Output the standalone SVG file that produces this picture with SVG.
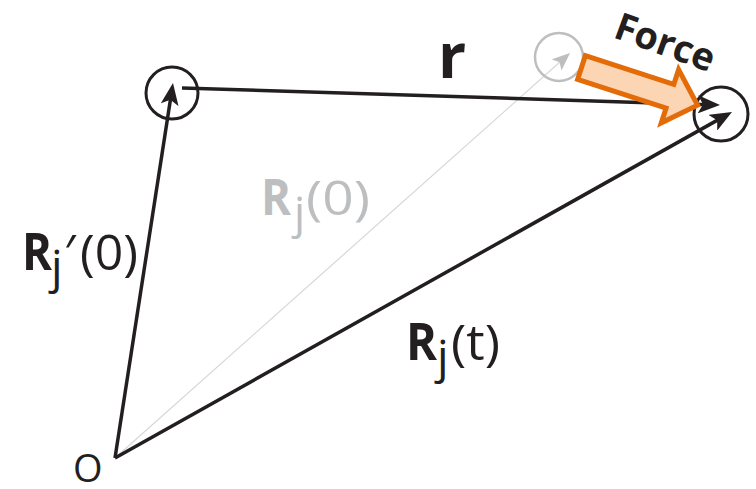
<svg xmlns="http://www.w3.org/2000/svg" width="756" height="489" viewBox="0 0 756 489">
<style>
.lbl{font-family:"Open Sans","DejaVu Sans",sans-serif;fill:#231f20}
.b{font-weight:bold}
.g{fill:#bcbec0}
.vec{stroke:#231f20;stroke-width:3.5;fill:none}
.circ{fill:none;stroke:#231f20;stroke-width:3}
</style>
<defs>
<marker id="ah" markerUnits="userSpaceOnUse" viewBox="0 0 22 18" refX="11" refY="9" markerWidth="22" markerHeight="18" orient="auto">
<path d="M0,0 L22,9 L0,18 L5,9 Z" fill="#231f20"/>
</marker>
<marker id="ahg" markerUnits="userSpaceOnUse" viewBox="0 0 22 18" refX="11" refY="9" markerWidth="18" markerHeight="16" orient="auto">
<path d="M0,0 L22,9 L0,18 L5,9 Z" fill="#bcbec0"/>
</marker>
</defs>
<rect width="756" height="489" fill="#ffffff"/>
<g id="connectors">
<line x1="115" y1="458" x2="563.3" y2="59" stroke="#d6d7d8" stroke-width="1.2" marker-end="url(#ahg)"/>
<line class="vec" x1="115" y1="458" x2="171.3" y2="93.9" marker-end="url(#ah)"/>
<line class="vec" x1="182" y1="88" x2="709" y2="104.65" marker-end="url(#ah)"/>
<line class="vec" x1="115" y1="458" x2="722.4" y2="117.4" marker-end="url(#ah)"/>
</g>
<g id="node-left"><circle class="circ" cx="172" cy="93" r="26"/></g>
<g id="node-right"><circle class="circ" cx="721" cy="114" r="27"/></g>
<g id="node-ghost"><circle cx="559" cy="57" r="24" fill="none" stroke="#bcbec0" stroke-width="2.5"/></g>
<g id="force">
<polygon transform="translate(581.5,67.5) rotate(18)" points="0,-12.5 93,-12.5 93,-28 122,0 93,28 93,12.5 0,12.5" fill="#fcd5b5" stroke="#e36c09" stroke-width="5" stroke-linejoin="miter"/>
<text class="lbl b" font-size="38" transform="translate(612,37) rotate(20)" fill="#000">Force</text>
</g>
<g id="label-r"><text class="lbl b" x="438" y="78" font-size="62">r</text></g>
<g id="label-rjp0">
<text class="lbl b" x="22" y="270" font-size="52" textLength="30" lengthAdjust="spacingAndGlyphs">R</text>
<text class="lbl" x="51" y="283" font-size="46">j</text>
<text class="lbl" x="64" y="270" font-size="50">′</text>
<text class="lbl" x="80" y="270" font-size="50" textLength="58" lengthAdjust="spacingAndGlyphs">(0)</text>
</g>
<g id="label-rj0">
<text class="lbl b g" x="261" y="215" font-size="50" textLength="30" lengthAdjust="spacingAndGlyphs">R</text>
<text class="lbl g" x="294" y="228" font-size="44">j</text>
<text class="lbl g" x="306" y="215" font-size="48" textLength="64" lengthAdjust="spacingAndGlyphs">(0)</text>
</g>
<g id="label-rjt">
<text class="lbl b" x="406" y="360" font-size="52" textLength="31" lengthAdjust="spacingAndGlyphs">R</text>
<text class="lbl" x="437" y="373" font-size="46">j</text>
<text class="lbl" x="451" y="360" font-size="50" textLength="49" lengthAdjust="spacingAndGlyphs">(t)</text>
</g>
<g id="label-o"><text class="lbl" x="73" y="482" font-size="38">O</text></g>
</svg>
